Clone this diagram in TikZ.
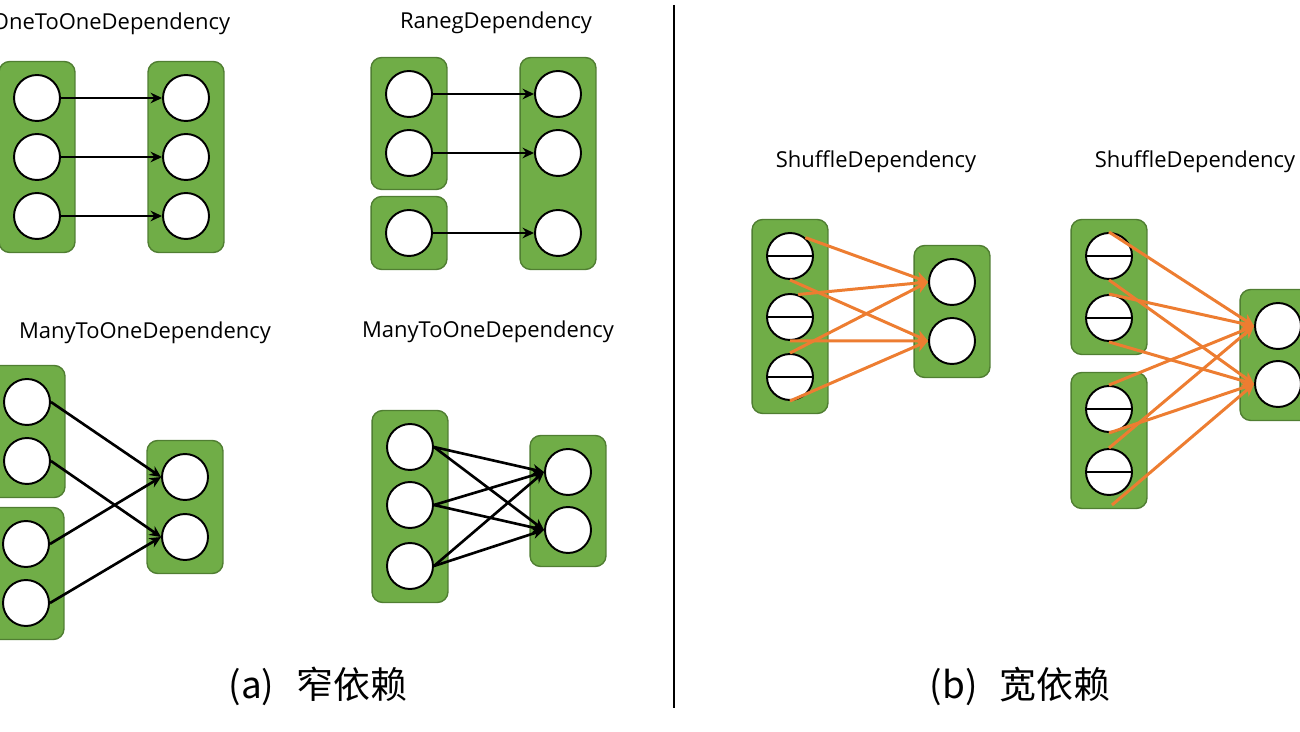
\documentclass[tikz,border=0pt]{standalone}
\usepackage{fontspec}
\setmainfont{Open Sans}
\newfontfamily\cjk{Noto Sans CJK SC}
\usetikzlibrary{arrows,arrows.meta,shapes,positioning,fit,backgrounds}
\definecolor[named]{Leaf}{HTML}{70AD47}
\definecolor[named]{LeafEdge}{HTML}{507E32}
\definecolor[named]{Carrot}{HTML}{ED7D31}
\tikzset{part/.style ={
        circle,
        draw=black,
        fill=white,
        line width=1.1pt,
        minimum size=0.92cm,
        inner sep=0pt,
    },
    shuf/.style={
        part,
        path picture={\draw[line width=1.1pt] (path picture bounding box.west) -- (path picture bounding box.east);},
    },
    rdd/.style={
        draw=LeafEdge,
        fill=Leaf,
        line width=0.8pt,
        rounded corners=6pt,
        inner xsep=0.28cm,
        inner ysep=0.25cm,
    },
    dep/.style ={
        draw,
        line width=1.5pt,
        -{Stealth[length=6.5pt,width=6pt]},
    },
    wide/.style ={
        draw=Carrot,
        line width=1.7pt,
        -{Stealth[length=7pt,width=7pt]},
    },
    title/.style ={
        font=\fontsize{12.5}{15}\selectfont,
    },
    caption/.style ={
        font=\cjk\fontsize{21}{25}\selectfont,
    }}
\begin{document}
\begin{tikzpicture}[x=0.02cm,y=-0.02cm]
	\useasboundingbox (0,0) rectangle (1300,732);
	% one to one
	\node[title] (t1) at (111,24) {OneToOneDependency};
	\node[part] (a1) at (37,98) {};
	\node[part] (a2) at (37,157) {};
	\node[part] (a3) at (37,216) {};
	\node[part] (b1) at (186,98) {};
	\node[part] (b2) at (186,157) {};
	\node[part] (b3) at (186,216) {};
	\draw[dep] (a1.east) -- (b1.west);
	\draw[dep] (a2.east) -- (b2.west);
	\draw[dep] (a3.east) -- (b3.west);
	% range
	\node[title] (t2) at (496,23) {RanegDependency};
	\node[part] (ra1) at (409,94) {};
	\node[part] (ra2) at (409,153) {};
	\node[part] (ra3) at (409,233) {};
	\node[part] (rb1) at (558,94) {};
	\node[part] (rb2) at (558,153) {};
	\node[part] (rb3) at (558,233) {};
	\draw[dep] (ra1.east) -- (rb1.west);
	\draw[dep] (ra2.east) -- (rb2.west);
	\draw[dep] (ra3.east) -- (rb3.west);
	% many to one, two parents
	\node[title] (t3) at (145,333) {ManyToOneDependency};
	\node[part] (ma1) at (27,402) {};
	\node[part] (ma2) at (27,461) {};
	\node[part] (ma3) at (26,544) {};
	\node[part] (ma4) at (26,603) {};
	\node[part] (mb1) at (185,477) {};
	\node[part] (mb2) at (185,537) {};
	\draw[dep] (ma1.east) -- (mb1.west);
	\draw[dep] (ma2.east) -- (mb2.west);
	\draw[dep] (ma3.east) -- (mb1.west);
	\draw[dep] (ma4.east) -- (mb2.west);
	% many to one, one parent
	\node[title] (t4) at (488,332) {ManyToOneDependency};
	\node[part] (na1) at (410,447) {};
	\node[part] (na2) at (410,505) {};
	\node[part] (na3) at (410,566) {};
	\node[part] (nb1) at (568,472) {};
	\node[part] (nb2) at (568,530) {};
	\draw[dep] (na1.east) -- (nb1.west);
	\draw[dep] (na1.east) -- (nb2.west);
	\draw[dep] (na2.east) -- (nb1.west);
	\draw[dep] (na2.east) -- (nb2.west);
	\draw[dep] (na3.east) -- (nb1.west);
	\draw[dep] (na3.east) -- (nb2.west);
	% shuffle, one parent
	\node[title] (t5) at (876,162) {ShuffleDependency};
	\node[shuf] (sa1) at (790,256) {};
	\node[shuf] (sa2) at (790,317) {};
	\node[shuf] (sa3) at (790,377) {};
	\node[part] (sb1) at (952,282) {};
	\node[part] (sb2) at (952,341) {};
	\draw[wide] (sa1.50) -- (sb1.west);
	\draw[wide] (sa1.south) -- (sb2.west);
	\draw[wide] (sa2.70) -- (sb1.west);
	\draw[wide] (sa2.south) -- (sb2.west);
	\draw[wide] (sa3.north) -- (sb1.west);
	\draw[wide] (sa3.south) -- (sb2.west);
	% shuffle, two parents
	\node[title] (t6) at (1195,162) {ShuffleDependency};
	\node[shuf] (ta1) at (1109,256) {};
	\node[shuf] (ta2) at (1109,318) {};
	\node[shuf] (ta3) at (1109,409) {};
	\node[shuf] (ta4) at (1109,472) {};
	\node[part] (tb1) at (1278,326) {};
	\node[part] (tb2) at (1278,384) {};
	\coordinate (tend) at (1112,505);
	\draw[wide] (ta1.north) -- (tb1.west);
	\draw[wide] (ta1.south) -- (tb2.west);
	\draw[wide] (ta2.north) -- (tb1.west);
	\draw[wide] (ta2.south) -- (tb2.west);
	\draw[wide] (ta3.north) -- (tb1.west);
	\draw[wide] (ta3.south) -- (tb2.west);
	\draw[wide] (ta4.north) -- (tb1.west);
	\draw[wide] (tend) -- (tb2.west);
	% rdd boxes
	\begin{scope}[on background layer]
		\node[rdd, fit=(a1)(a3)] (A) {};
		\node[rdd, fit=(b1)(b3)] (B) {};
		\node[rdd, fit=(ra1)(ra2)] (RA1) {};
		\node[rdd, fit=(ra3)] (RA2) {};
		\node[rdd, fit=(rb1)(rb3)] (RB) {};
		\node[rdd, fit=(ma1)(ma2)] (MA1) {};
		\node[rdd, fit=(ma3)(ma4)] (MA2) {};
		\node[rdd, fit=(mb1)(mb2)] (MB) {};
		\node[rdd, fit=(na1)(na3)] (NA) {};
		\node[rdd, fit=(nb1)(nb2)] (NB) {};
		\node[rdd, fit=(sa1)(sa3)] (SA) {};
		\node[rdd, fit=(sb1)(sb2)] (SB) {};
		\node[rdd, fit=(ta1)(ta2)] (TA1) {};
		\node[rdd, fit=(ta3)(ta4)] (TA2) {};
		\node[rdd, fit=(tb1)(tb2)] (TB) {};
	\end{scope}
	% divider and captions
	\coordinate (top) at (674,5);
	\coordinate (bot) at (674,708);
	\draw[line width=1.2pt] (top) -- (bot);
	\node[caption] (capa) at (318,686) {(a)\hspace{0.6em}窄依赖};
	\node[caption] (capb) at (1020,686) {(b)\hspace{0.6em}宽依赖};
\end{tikzpicture}
\end{document}
